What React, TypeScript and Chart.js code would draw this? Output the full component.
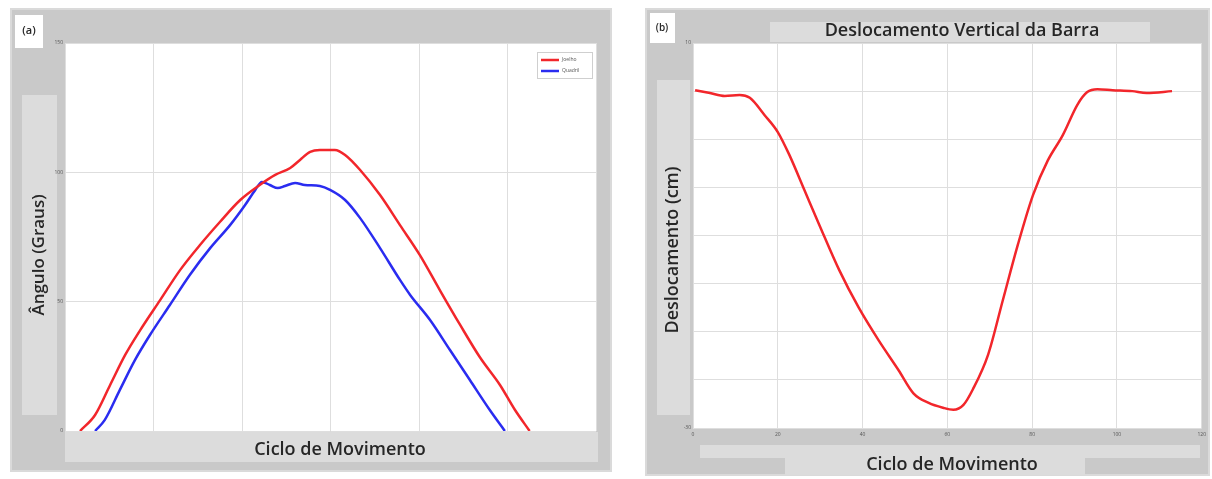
import React, { useEffect, useRef } from 'react';
import { Chart, registerables } from 'chart.js';

Chart.register(...registerables);

// ---- Panel (a): joint angles over the movement cycle ----
const kneeLabel = 'Joelho';
const kneeCycle = [3.4, 6.8, 10.2, 13.6, 17, 21.5, 26, 30.5, 35, 39.6, 44, 47.5, 50.9, 53.1, 55.4, 57.6, 61, 63.3, 66.7, 71.2, 75.7, 80.2, 84.7, 89.3, 93.8, 98.3, 101.7, 105];
const kneeAngle = [0, 6.2, 17.8, 29.4, 39, 50.6, 62.2, 71.9, 80.8, 89.3, 95.1, 99, 101.7, 104.8, 107.9, 108.6, 108.6, 106.7, 100.9, 91.2, 79.6, 68, 54.5, 41, 28.4, 17.8, 8.1, 0];

const hipLabel = 'Quadril';
const hipCycle = [6.8, 9, 12.4, 15.8, 19.2, 23.7, 28.2, 32.8, 37.3, 40.7, 43, 44.5, 46.3, 48.1, 49.7, 52, 54.2, 57.6, 59.9, 63.3, 66.7, 71.2, 75.7, 78, 82.5, 87, 91.5, 96, 99.4];
const hipAngle = [0, 4.3, 15.9, 27.4, 37.1, 48.7, 60.3, 70.7, 79.6, 87.4, 93.2, 96.3, 95.1, 93.9, 94.7, 95.9, 95.1, 94.7, 93.2, 89.3, 82.3, 70.7, 58.4, 52.6, 42.9, 31.3, 19.7, 8.1, 0];

const angleTicks = [0, 50, 100, 150];

// ---- Panel (b): vertical bar displacement ----
const barCycle = [0.5, 4, 7.5, 11, 13.4, 16.9, 20, 22.7, 26.3, 29.8, 34.5, 39.1, 43.8, 48.5, 52, 55.6, 59, 61.4, 63.8, 66, 69.6, 73.1, 76.6, 80.2, 83.7, 87.2, 90.7, 93, 95.4, 99, 103.6, 107, 113];
const barDisplacement = [5.1, 4.8, 4.5, 4.6, 4.3, 2.5, 0.75, -1.6, -5.3, -8.9, -13.6, -17.5, -20.9, -24, -26.4, -27.4, -27.9, -28.1, -27.6, -26, -22.4, -16.7, -11, -5.8, -2.2, 0.4, 3.6, 4.9, 5.2, 5.1, 5.0, 4.8, 5.0];

const cycleTicks = [0, 20, 40, 60, 80, 100, 120];
const displacementLabelled = [-30, 10];

const RED = '#f2262b';
const BLUE = '#2a2cf0';
const PANEL_BG = '#c9c9c9';
const BOX_BG = '#dcdcdc';
const GRID = '#dedede';
const TEXT = '#262626';
const FONT = '"Open Sans", "DejaVu Sans", sans-serif';

const zip = (xs: number[], ys: number[]) => xs.map((x, i) => ({ x, y: ys[i] }));

type Box = { x: number; y: number; w: number; h: number; color: string };
type Label = { text: string; x: number; y: number; rot?: number; size: number; weight?: string };

function decorPlugin(boxes: Box[], labels: Label[], withLegend: boolean) {
  return {
    id: 'panelDecor',
    beforeDraw(chart: any) {
      const { ctx, width, height, chartArea: ca } = chart;
      ctx.save();
      ctx.fillStyle = PANEL_BG;
      ctx.fillRect(0, 0, width, height);
      ctx.strokeStyle = '#dadada';
      ctx.lineWidth = 2;
      ctx.strokeRect(1, 1, width - 2, height - 2);
      boxes.forEach((b) => {
        ctx.fillStyle = b.color;
        ctx.fillRect(b.x, b.y, b.w, b.h);
      });
      ctx.fillStyle = '#ffffff';
      ctx.fillRect(ca.left, ca.top, ca.right - ca.left, ca.bottom - ca.top);
      ctx.fillStyle = TEXT;
      ctx.textAlign = 'center';
      ctx.textBaseline = 'middle';
      labels.forEach((l) => {
        ctx.save();
        ctx.translate(l.x, l.y);
        if (l.rot) ctx.rotate(l.rot);
        ctx.font = `${l.weight || '600'} ${l.size}px ${FONT}`;
        ctx.fillText(l.text, 0, 0);
        ctx.restore();
      });
      ctx.restore();
    },
    afterDatasetsDraw(chart: any) {
      if (!withLegend) return;
      const { ctx, chartArea: ca } = chart;
      const w = 55;
      const h = 26;
      const bx = ca.right - w - 4;
      const by = ca.top + 9;
      ctx.save();
      ctx.fillStyle = '#ffffff';
      ctx.fillRect(bx, by, w, h);
      ctx.strokeStyle = '#cfcfcf';
      ctx.lineWidth = 1;
      ctx.strokeRect(bx + 0.5, by + 0.5, w, h);
      chart.data.datasets.forEach((ds: any, i: number) => {
        const y = by + 8 + i * 11;
        ctx.strokeStyle = ds.borderColor;
        ctx.lineWidth = 2.5;
        ctx.beginPath();
        ctx.moveTo(bx + 4, y);
        ctx.lineTo(bx + 22, y);
        ctx.stroke();
        ctx.fillStyle = '#555';
        ctx.font = `5px ${FONT}`;
        ctx.textAlign = 'left';
        ctx.textBaseline = 'middle';
        ctx.fillText(ds.label, bx + 25, y);
      });
      ctx.restore();
    },
  };
}

const lineStyle = { borderWidth: 2.5, pointRadius: 0, cubicInterpolationMode: 'monotone', fill: false };

function AnglePanel() {
  const ref = useRef<HTMLCanvasElement>(null);
  useEffect(() => {
    const chart = new Chart(ref.current as HTMLCanvasElement, {
      type: 'line',
      data: {
        datasets: [
          { label: kneeLabel, data: zip(kneeCycle, kneeAngle), borderColor: RED, ...lineStyle },
          { label: hipLabel, data: zip(hipCycle, hipAngle), borderColor: BLUE, ...lineStyle },
        ],
      },
      options: {
        animation: false,
        responsive: false,
        devicePixelRatio: 1,
        layout: { padding: { left: 43, right: 16, top: 35, bottom: 41 } },
        plugins: { legend: { display: false }, tooltip: { enabled: false } },
        scales: {
          x: {
            type: 'linear',
            min: cycleTicks[0],
            max: cycleTicks[cycleTicks.length - 1],
            afterBuildTicks: (s: any) => { s.ticks = cycleTicks.map((v) => ({ value: v })); },
            afterFit: (s: any) => { s.height = 0; },
            ticks: { display: false },
            grid: { color: GRID, drawTicks: false },
            border: { display: false },
          },
          y: {
            min: angleTicks[0],
            max: angleTicks[angleTicks.length - 1],
            afterBuildTicks: (s: any) => { s.ticks = angleTicks.map((v) => ({ value: v })); },
            afterFit: (s: any) => { s.width = 12; },
            ticks: { font: { size: 5, family: FONT }, color: '#555', padding: 2 },
            grid: { color: GRID, drawTicks: false },
            border: { display: false },
          },
        },
      },
      plugins: [
        decorPlugin(
          [
            { x: 12, y: 87, w: 35, h: 320, color: BOX_BG },
            { x: 55, y: 424, w: 533, h: 30, color: BOX_BG },
            { x: 5, y: 7, w: 28, h: 33, color: '#ffffff' },
          ],
          [
            { text: '(a)', x: 19, y: 23, size: 11, weight: '600' },
            { text: 'Ângulo (Graus)', x: 29, y: 247, rot: -Math.PI / 2, size: 17 },
            { text: 'Ciclo de Movimento', x: 330, y: 442, size: 18 },
          ],
          true,
        ),
      ],
    } as any);
    return () => chart.destroy();
  }, []);
  return <canvas ref={ref} width={602} height={464} />;
}

function DisplacementPanel() {
  const ref = useRef<HTMLCanvasElement>(null);
  useEffect(() => {
    const chart = new Chart(ref.current as HTMLCanvasElement, {
      type: 'line',
      data: {
        datasets: [
          { label: 'Deslocamento', data: zip(barCycle, barDisplacement), borderColor: RED, ...lineStyle },
        ],
      },
      options: {
        animation: false,
        responsive: false,
        devicePixelRatio: 1,
        layout: { padding: { left: 36, right: 5, top: 35, bottom: 34 } },
        plugins: { legend: { display: false }, tooltip: { enabled: false } },
        scales: {
          x: {
            type: 'linear',
            min: cycleTicks[0],
            max: cycleTicks[cycleTicks.length - 1],
            afterBuildTicks: (s: any) => { s.ticks = cycleTicks.map((v) => ({ value: v })); },
            afterFit: (s: any) => { s.height = 14; },
            ticks: { font: { size: 5, family: FONT }, color: '#555', padding: 4, maxRotation: 0 },
            grid: { color: GRID, drawTicks: false },
            border: { display: false },
          },
          y: {
            min: displacementLabelled[0],
            max: displacementLabelled[1],
            ticks: {
              stepSize: 5,
              font: { size: 5, family: FONT },
              color: '#555',
              padding: 2,
              callback: (v: any) => (displacementLabelled.includes(Number(v)) ? String(v) : ''),
            },
            afterFit: (s: any) => { s.width = 12; },
            grid: { color: GRID, drawTicks: false },
            border: { display: false },
          },
        },
      },
      plugins: [
        decorPlugin(
          [
            { x: 125, y: 14, w: 380, h: 20, color: BOX_BG },
            { x: 12, y: 72, w: 33, h: 335, color: BOX_BG },
            { x: 55, y: 437, w: 500, h: 13, color: BOX_BG },
            { x: 140, y: 442, w: 300, h: 25, color: BOX_BG },
            { x: 5, y: 5, w: 25, h: 30, color: '#ffffff' },
          ],
          [
            { text: '(b)', x: 17, y: 20, size: 10, weight: '600' },
            { text: 'Deslocamento Vertical da Barra', x: 317, y: 23, size: 18 },
            { text: 'Deslocamento (cm)', x: 28, y: 242, rot: -Math.PI / 2, size: 18 },
            { text: 'Ciclo de Movimento', x: 307, y: 457, size: 18 },
          ],
          false,
        ),
      ],
    } as any);
    return () => chart.destroy();
  }, []);
  return <canvas ref={ref} width={565} height={468} />;
}

export default function App() {
  return (
    <div style={{ position: 'absolute', left: 0, top: 0, width: 1212, height: 479, background: '#ffffff' }}>
      <div style={{ position: 'absolute', left: 10, top: 8 }}>
        <AnglePanel />
      </div>
      <div style={{ position: 'absolute', left: 645, top: 8 }}>
        <DisplacementPanel />
      </div>
    </div>
  );
}
